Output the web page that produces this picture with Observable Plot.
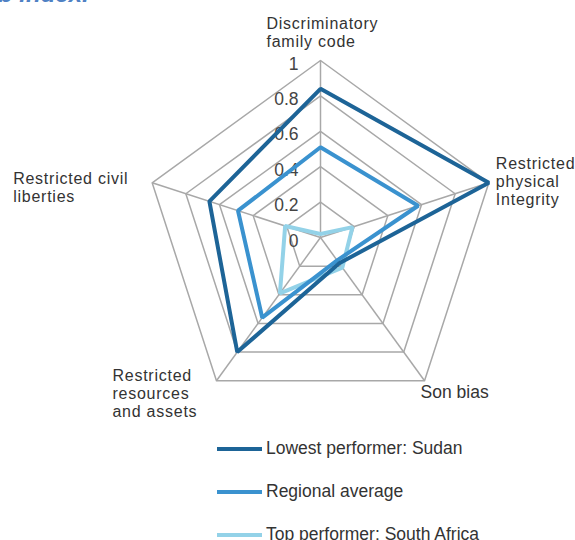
<!DOCTYPE html>
<html><head><meta charset="utf-8">
<script src="https://cdn.jsdelivr.net/npm/d3@7"></script>
<script src="https://cdn.jsdelivr.net/npm/@observablehq/plot@0.6"></script>
<style>
body{margin:0;background:#fff;font-family:"Liberation Sans",Arial,sans-serif;}
#wrap{position:relative;width:575px;height:540px;overflow:hidden;background:#fff;}
#title{position:absolute;left:-2px;top:-18px;font:italic bold 24px "Liberation Sans",Arial,sans-serif;color:#4f81c4;line-height:1;white-space:nowrap;}
#chart{position:absolute;left:0;top:0;}
#legend{position:absolute;left:217px;top:427px;}
.row{display:flex;align-items:center;height:43px;font-size:17.5px;color:#333;white-space:nowrap;}
.sw{width:45px;height:4px;margin-right:4px;}
</style></head><body>
<div id="wrap"><div id="title">b index.</div><div id="chart"></div><div id="legend"></div></div>
<script>
const categories = ["Discriminatory\nfamily code", "Restricted\nphysical\nIntegrity", "Son bias", "Restricted\nresources\nand assets", "Restricted civil\nliberties"];
const seriesNames = ["Lowest performer: Sudan", "Regional average", "Top performer: South Africa"];
const sudan = [0.84, 1.0, 0.18, 0.80, 0.66];
const regional = [0.51, 0.58, 0.16, 0.56, 0.49];
const southAfrica = [0.02, 0.19, 0.21, 0.39, 0.21];
const gridLevels = [0.2, 0.4, 0.6, 0.8, 1];
const tickLabels = ["0", "0.2", "0.4", "0.6", "0.8", "1"];
const tickValues = [0, 0.2, 0.4, 0.6, 0.8, 1];
const colors = ["#1d6497", "#3a92cf", "#93d2e8"];

const n = categories.length;
const ang = i => Math.PI / 2 - i * 2 * Math.PI / n;
const px = (i, r) => r * Math.cos(ang(i));
const py = (i, r) => r * Math.sin(ang(i));

const gridPts = gridLevels.flatMap(l => categories.map((c, i) => ({l, i})));
const valueSets = [sudan, regional, southAfrica];
const seriesPts = [2, 1, 0].flatMap(s => valueSets[s].map((v, i) => ({s: seriesNames[s], i, v})));
const catIdx = categories.map((c, i) => ({c, i}));

const font = {fontSize: 17.5, fill: "#333", fontFamily: "Liberation Sans, Arial, sans-serif"};
function label(i, opts) {
  return Plot.text([catIdx[i]], {x: d => px(d.i, 1), y: d => py(d.i, 1), text: d => d.c,
    textAnchor: "start", lineAnchor: "bottom", lineHeight: 1.12, ...font, fontSize: 16, ...opts});
}

const chart = Plot.plot({
  width: 575, height: 430,
  marginLeft: 143, marginRight: 78, marginTop: 60, marginBottom: 16,
  x: {domain: [-1, 1], axis: null},
  y: {domain: [-1, 1], axis: null},
  color: {domain: seriesNames, range: colors},
  style: {background: "transparent", overflow: "visible"},
  marks: [
    Plot.line(gridPts, {x: d => px(d.i, d.l), y: d => py(d.i, d.l), z: "l", curve: "linear-closed", stroke: "#a8a8a8", strokeWidth: 1.5}),
    Plot.link(catIdx, {x1: () => 0, y1: () => 0, x2: d => px(d.i, 1), y2: d => py(d.i, 1), stroke: "#a8a8a8", strokeWidth: 1.5}),
    Plot.text(tickValues, {x: () => 0, y: d => d, text: (d, k) => tickLabels[k], textAnchor: "end", dx: -22, dy: 3.5, ...font, fill: "#444"}),
    Plot.line(seriesPts, {x: d => px(d.i, d.v), y: d => py(d.i, d.v), z: "s", stroke: "s", curve: "linear-closed", strokeWidth: 4, strokeLinejoin: "miter"}),
    label(0, {dx: -54, dy: -14}),
    label(1, {dx: 7, dy: 22}),
    label(2, {dx: -4, dy: 17, fontSize: 17.5}),
    label(3, {dx: -104, dy: 36}),
    label(4, {dx: -139, dy: 19})
  ]
});
const textGroups = chart.querySelectorAll('g[aria-label="text"]');
textGroups.forEach((g, k) => { if (k > 0 && k !== 3) g.setAttribute("letter-spacing", "0.75"); });
document.getElementById("chart").appendChild(chart);

const legend = document.getElementById("legend");
seriesNames.forEach((name, k) => {
  const row = document.createElement("div");
  row.className = "row";
  const sw = document.createElement("span");
  sw.className = "sw";
  sw.style.background = colors[k];
  const t = document.createElement("span");
  t.textContent = name;
  row.appendChild(sw); row.appendChild(t);
  legend.appendChild(row);
});
</script>
</body></html>
